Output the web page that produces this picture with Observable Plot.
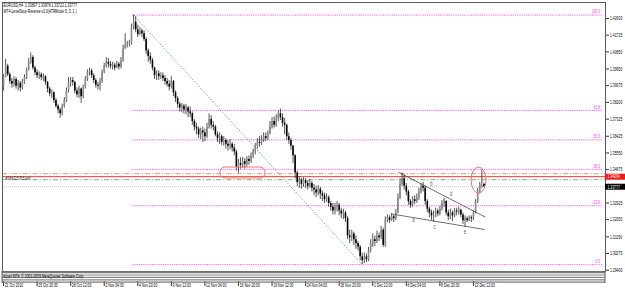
<!DOCTYPE html>
<html><head><meta charset="utf-8">
<script src="https://cdn.jsdelivr.net/npm/d3@7"></script>
<script src="https://cdn.jsdelivr.net/npm/@observablehq/plot@0.6"></script>
<style>
html,body{margin:0;padding:0;background:#fff;}
#chart svg{display:block;}
</style></head><body><div id="chart"></div>
<script>
// ---- data (prices in pips: value / 10000) ----
const firstOpen = 13900;
const closes = [13955,14010,13965,13930,13915,13940,13905,13920,13895,13925,13950,13990,14030,14055,14000,13975,13960,13965,13950,13955,
13925,13890,13865,13870,13830,13800,13780,13760,13800,13830,13880,13920,13935,13925,13880,13860,13890,13850,13900,13940,
13975,13985,13960,13935,13910,13905,13930,13980,14010,14030,14020,14010,14015,14000,14020,14005,14040,14100,14120,14125,
14130,14210,14240,14200,14175,14195,14180,14150,14090,14060,14040,14000,13960,13970,13955,13960,13945,13930,13915,13900,
13930,13870,13840,13810,13790,13800,13780,13790,13770,13760,13720,13690,13680,13650,13670,13660,13640,13690,13730,13700,
13690,13650,13630,13640,13610,13620,13600,13590,13600,13580,13560,13480,13500,13490,13510,13495,13520,13510,13540,13560,
13590,13610,13605,13625,13640,13630,13655,13690,13720,13700,13735,13760,13740,13710,13700,13640,13620,13590,13540,13450,
13400,13410,13390,13410,13395,13380,13395,13370,13360,13345,13365,13340,13330,13310,13320,13290,13270,13250,13270,13280,
13250,13235,13240,13210,13120,13110,13130,13100,13080,13060,13010,12990,13010,12995,13040,13080,13100,13090,13120,13110,
13150,13070,13205,13215,13200,13220,13210,13240,13320,13390,13420,13380,13350,13300,13280,13310,13300,13320,13350,13380,
13370,13300,13260,13240,13225,13230,13250,13235,13260,13290,13300,13240,13220,13240,13225,13250,13245,13255,13230,13200,
13210,13200,13215,13210,13240,13300,13350,13390,13389.7,13377.7];
const highs = [13965,14045,14020,13975,13945,13955,13950,13935,13930,13940,13965,14000,14050,14080,14065,14010,13990,13980,13975,13970,
13960,13930,13900,13885,13875,13840,13810,13790,13810,13845,13895,13950,13950,13950,13930,13895,13905,13895,13910,13955,
13990,14000,13995,13970,13945,13925,13945,13990,14025,14055,14050,14035,14030,14025,14035,14030,14055,14120,14180,14140,
14145,14230,14278,14270,14225,14215,14205,14195,14160,14100,14080,14050,14005,13985,13985,13975,13975,13960,13945,13935,
13955,13935,13880,13850,13820,13815,13810,13810,13800,13795,13770,13730,13710,13690,13685,13690,13680,13710,13760,13750,
13720,13700,13665,13660,13650,13640,13630,13620,13625,13610,13600,13570,13520,13530,13530,13525,13535,13540,13555,13575,
13605,13630,13640,13645,13660,13660,13670,13720,13740,13745,13755,13775,13785,13760,13735,13705,13660,13630,13595,13545,
13460,13430,13420,13425,13420,13410,13415,13405,13390,13380,13385,13375,13355,13345,13340,13330,13300,13290,13290,13300,
13290,13265,13260,13250,13220,13150,13150,13140,13120,13090,13070,13030,13030,13025,13060,13100,13130,13120,13145,13135,
13170,13160,13220,13230,13225,13235,13230,13260,13340,13420,13450,13440,13395,13360,13310,13325,13330,13340,13370,13395,
13401,13380,13310,13270,13255,13250,13265,13260,13275,13305,13317,13305,13255,13260,13250,13264,13265,13270,13260,13240,
13225,13220,13225,13225,13250,13310,13370,13400,13466,13397.8];
const lows = [13880,13950,13955,13915,13895,13900,13890,13880,13875,13885,13915,13940,13985,14020,13990,13960,13945,13940,13935,13930,
13910,13870,13850,13840,13815,13790,13760,13736,13750,13790,13820,13870,13900,13905,13865,13845,13840,13815,13840,13890,
13930,13960,13945,13920,13895,13885,13880,13920,13970,14000,14000,13995,13990,13985,13995,13990,13995,14030,14100,14105,
14110,14120,14200,14185,14160,14170,14160,14140,14070,14030,14020,13985,13940,13935,13935,13940,13930,13910,13900,13880,
13890,13850,13820,13790,13770,13765,13760,13755,13740,13740,13700,13670,13650,13630,13625,13610,13615,13630,13680,13680,
13670,13640,13610,13600,13595,13590,13575,13565,13570,13560,13540,13460,13448,13470,13475,13470,13480,13490,13500,13525,
13545,13575,13585,13595,13610,13615,13620,13650,13680,13685,13690,13720,13725,13690,13650,13620,13600,13570,13500,13420,
13380,13370,13365,13375,13370,13360,13370,13350,13330,13320,13330,13310,13300,13290,13295,13270,13250,13230,13230,13245,
13225,13210,13205,13190,13100,13080,13090,13070,13050,13040,12990,12969,12975,12980,12985,13030,13060,13065,13080,13090,
13100,13060,13060,13190,13185,13195,13190,13200,13235,13310,13380,13360,13330,13280,13265,13270,13285,13290,13305,13340,
13350,13280,13240,13215,13200,13191,13215,13220,13225,13250,13270,13225,13200,13205,13195,13215,13225,13230,13215,13180,
13165,13190,13195,13190,13200,13235,13290,13340,13370,13372.2];

const timeLabelIdx = [0,16,32,48,64,80,96,112,128,144,160,176,192,208,224];
const timeLabels = ["21 Oct 2010","25 Oct 20:00","28 Oct 12:00","2 Nov 04:00","4 Nov 20:00","9 Nov 12:00","12 Nov 04:00",
"16 Nov 20:00","19 Nov 12:00","24 Nov 04:00","26 Nov 20:00","1 Dec 12:00","6 Dec 04:00","8 Dec 20:00","13 Dec 12:00"];
const priceTicks = [1.42600,1.41725,1.40850,1.39950,1.39075,1.38200,1.37325,1.36425,1.35550,1.34675,1.32925,1.32050,1.31150,1.30275,1.29400];

const titleLines = ["EURUSD,H4  1.33897 1.33978 1.33722 1.33777", "MT4-LevelStop-Reverse-v2.0(ATRMode 5, 3, 1 )"];
const fibRatios = [0, 23.6, 38.2, 50, 61.8, 100];
const fibHighIdx = 62, fibHighPrice = 1.4278;
const fibLowIdx = 171, fibLowPrice = 1.2969;
const orderPrice = 1.34304, orderLabel = "#384315765 sell";
const stopPrice = 1.34465, targetPrice = 1.34150, bidPrice = 1.33777;
const trendLineIdx = [[188.3, 229.7], [184.5, 229.3]];
const trendLinePrice = [[1.34539, 1.32180], [1.32358, 1.31534]];
const waveLetters = ["a","b","c","d","e"];
const waveIdx = [195.4, 203.9, 205.4, 213.4, 219.9];
const wavePrice = [1.32059, 1.33933, 1.31692, 1.33407, 1.31429];
const ovalIdx = [[103.4, 124.9], [223.1, 230.2]];
const ovalPrice = [[1.34786, 1.34209], [1.34786, 1.33422]];
const copyright = "Alpari MT4, \u00a9 2001-2009 MetaQuotes Software Corp.";

// ---- build tables ----
const bars = closes.map((c, i) => ({
  i, open: (i ? closes[i - 1] : firstOpen) / 1e4, close: c / 1e4, high: highs[i] / 1e4, low: lows[i] / 1e4
}));
const fibLevels = fibRatios.map(r => ({r, price: fibLowPrice + (fibHighPrice - fibLowPrice) * r / 100}));
const trend = trendLineIdx.map((d, k) => ({x1: d[0], x2: d[1], y1: trendLinePrice[k][0], y2: trendLinePrice[k][1]}));
const waves = waveLetters.map((t, k) => ({t, x: waveIdx[k], y: wavePrice[k]}));
const ovals = ovalIdx.map((d, k) => ({x1: d[0], x2: d[1], y1: ovalPrice[k][0], y2: ovalPrice[k][1]}));

const X0 = -0.477, X1 = 286.94;
const fmt = d3.format(".5f");

const chart = Plot.plot({
  width: 625, height: 291,
  marginTop: 2, marginBottom: 20, marginLeft: 2, marginRight: 20,
  x: {domain: [X0, X1], axis: null},
  y: {domain: [1.29332, 1.43439], axis: null},
  style: {fontFamily: "'Liberation Sans', Arial, sans-serif", fontSize: "5.5px", background: "#fff", color: "#000"},
  marks: [
    Plot.ruleY(fibLevels, {y: "price", x1: fibHighIdx - 0.4, x2: X1 - 1, stroke: "#ff3cff", strokeDasharray: "1,1.2", strokeWidth: 1}),
    Plot.text(fibLevels, {y: "price", x: X1 - 2.6, text: d => d.r.toFixed(1), textAnchor: "end", dy: -3.5, fill: "#ff33ff"}),
    Plot.link([0], {x1: () => fibHighIdx, y1: () => fibHighPrice, x2: () => fibLowIdx, y2: () => fibLowPrice, stroke: "#6a78c0", strokeDasharray: "1.2,1.8", strokeWidth: 0.9}),
    Plot.ruleY([stopPrice], {stroke: "#f5a890", strokeDasharray: "5,2,1.2,2", strokeWidth: 1.3}),
    Plot.ruleY([orderPrice], {stroke: "#e83535", strokeWidth: 1}),
    Plot.ruleY([targetPrice], {stroke: "#90c49c", strokeDasharray: "5,2,1.2,2", strokeWidth: 1.3}),
    Plot.ruleY([bidPrice], {stroke: "#b5b5b5", strokeDasharray: "1,1", strokeWidth: 0.8}),
    Plot.text([orderLabel], {x: () => 0.9, y: () => orderPrice, text: d => d, textAnchor: "start", dy: 1.2, fill: "#333"}),
    Plot.ruleX(bars, {x: "i", y1: "low", y2: "high", stroke: "#2a2a2a", strokeWidth: 0.8}),
    Plot.ruleX(bars, {x: "i", y1: "open", y2: "close", stroke: d => d.close >= d.open ? "#8a8a8a" : "#000", strokeWidth: 1.6}),
    Plot.link(trend, {x1: "x1", y1: "y1", x2: "x2", y2: "y2", stroke: "#4a4a4a", strokeWidth: 0.8}),
    Plot.text(waves, {x: "x", y: "y", text: "t", fill: "#555", fontSize: 6.5}),
    Plot.rect([ovals[0]], {x1: "x1", x2: "x2", y1: "y1", y2: "y2", rx: 5, stroke: "#f07575", fill: "none", strokeWidth: 1}),
    Plot.rect([ovals[1]], {x1: "x1", x2: "x2", y1: "y1", y2: "y2", rx: 7.5, ry: 13, stroke: "#f07575", fill: "none", strokeWidth: 1}),
    Plot.text([titleLines.join("\n")], {frameAnchor: "top-left", dx: 1, dy: 0.6, lineAnchor: "top", lineHeight: 1.05, text: d => d, fill: "#000"}),
    Plot.frame({stroke: "#5a5a5a", strokeWidth: 1}),
    Plot.axisY(priceTicks, {anchor: "right", tickSize: 3, tickPadding: 1.5, tickFormat: fmt, stroke: "#333"}),
    Plot.ruleY([orderPrice], {x1: () => X1, x2: () => X1 + 9.6, stroke: "#f01818", strokeWidth: 6}),
    Plot.text([orderPrice], {x: () => X1, y: d => d, dx: 2, text: fmt, textAnchor: "start", fill: "#fff"}),
    Plot.ruleY([bidPrice], {x1: () => X1, x2: () => X1 + 9.6, stroke: "#000", strokeWidth: 6}),
    Plot.text([bidPrice], {x: () => X1, y: d => d, dx: 2, text: fmt, textAnchor: "start", fill: "#fff"}),
    Plot.axisX(timeLabelIdx, {anchor: "bottom", tickSize: 5, tickFormat: () => "", dy: 10, stroke: "#333"}),
    Plot.text(timeLabelIdx, {x: d => d, frameAnchor: "bottom", dy: 13.3, dx: 1.2, text: (d, k) => timeLabels[k], textAnchor: "start", lineAnchor: "middle", fill: "#000"})
  ]
});
document.getElementById("chart").appendChild(chart);

// chrome: collapsed indicator sub-window separators + copyright line
const svg = d3.select(chart);
const sep = svg.append("g");
[[272.2, 2, "#7a7a7a"], [275, 1.2, "#8a8a8a"], [277.4, 1.2, "#8a8a8a"], [279.8, 1.2, "#8a8a8a"], [282.2, 1.2, "#7a7a7a"]].forEach(([y, w, c]) => {
  sep.append("line").attr("x1", 2).attr("x2", 605).attr("y1", y).attr("y2", y).attr("stroke", c).attr("stroke-width", w);
});
svg.append("line").attr("x1", 2).attr("x2", 2).attr("y1", 271).attr("y2", 283).attr("stroke", "#5a5a5a");
svg.append("line").attr("x1", 605).attr("x2", 605).attr("y1", 271).attr("y2", 283).attr("stroke", "#5a5a5a");
svg.append("text").attr("x", 3).attr("y", 277.6).attr("font-size", 5.5).attr("text-anchor", "start").attr("fill", "#000").text(copyright);

// horizontally condense all text (the source screenshot was squeezed horizontally)
const SX = 0.62;
chart.querySelectorAll("text").forEach(t => {
  const tr = t.getAttribute("transform");
  if (tr) t.setAttribute("transform", tr + ` scale(${SX},1)`);
  else {
    const x = +(t.getAttribute("x") || 0), y = +(t.getAttribute("y") || 0);
    t.setAttribute("transform", `translate(${x},${y}) scale(${SX},1) translate(${-x},${-y})`);
  }
});
</script></body></html>
